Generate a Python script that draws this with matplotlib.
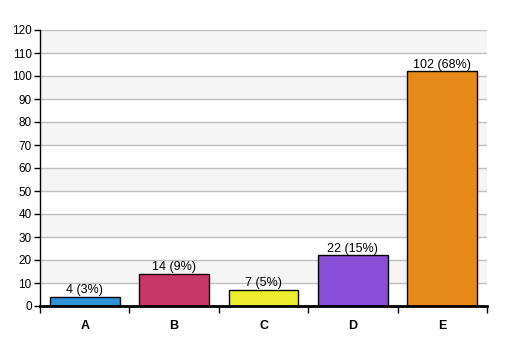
import numpy as np
import matplotlib.pyplot as plt

categories = ["A", "B", "C", "D", "E"]
counts = [4, 14, 7, 22, 102]
percents = [3, 9, 5, 15, 68]
colors = ["#3092d6", "#c73768", "#eded30", "#874ed6", "#e68a1a"]

plt.rcParams["font.family"] = ["Liberation Sans", "DejaVu Sans"]

fig = plt.figure(figsize=(5.07, 3.56), dpi=100)
ax = fig.add_axes([40 / 507, 50 / 356, 447 / 507, 276 / 356])

x = np.arange(len(categories))
ax.set_xlim(-0.5, len(categories) - 0.5)
ax.set_ylim(0, 120)

# alternating bands
for lo in range(10, 120, 20):
    ax.axhspan(lo, lo + 10, color="#f5f5f5", zorder=0, lw=0)
for y in range(10, 121, 10):
    ax.axhline(y, color="#c0c0c0", lw=1, zorder=1)

ax.bar(x, counts, width=0.78, color=colors, edgecolor="black", linewidth=1, zorder=2)

for xi, c, p in zip(x, counts, percents):
    ax.text(xi, c + 0.2, f"{c} ({p}%)", ha="center", va="bottom", fontsize=9, zorder=3)

ax.set_yticks(range(0, 121, 10))
ax.tick_params(axis="y", labelsize=8.5, length=4, width=1, pad=2)

ax.set_xticks(np.arange(-0.5, len(categories), 1.0))
ax.set_xticklabels([])
ax.set_xticks(x, minor=True)
ax.set_xticklabels(categories, minor=True, fontweight="bold", fontsize=9)
ax.tick_params(axis="x", which="major", length=5, width=1)
ax.tick_params(axis="x", which="minor", length=0, pad=10)

for s in ["top", "right"]:
    ax.spines[s].set_visible(False)
ax.spines["bottom"].set_linewidth(2)
ax.spines["left"].set_linewidth(1)

fig.savefig("out.png", dpi=100)
